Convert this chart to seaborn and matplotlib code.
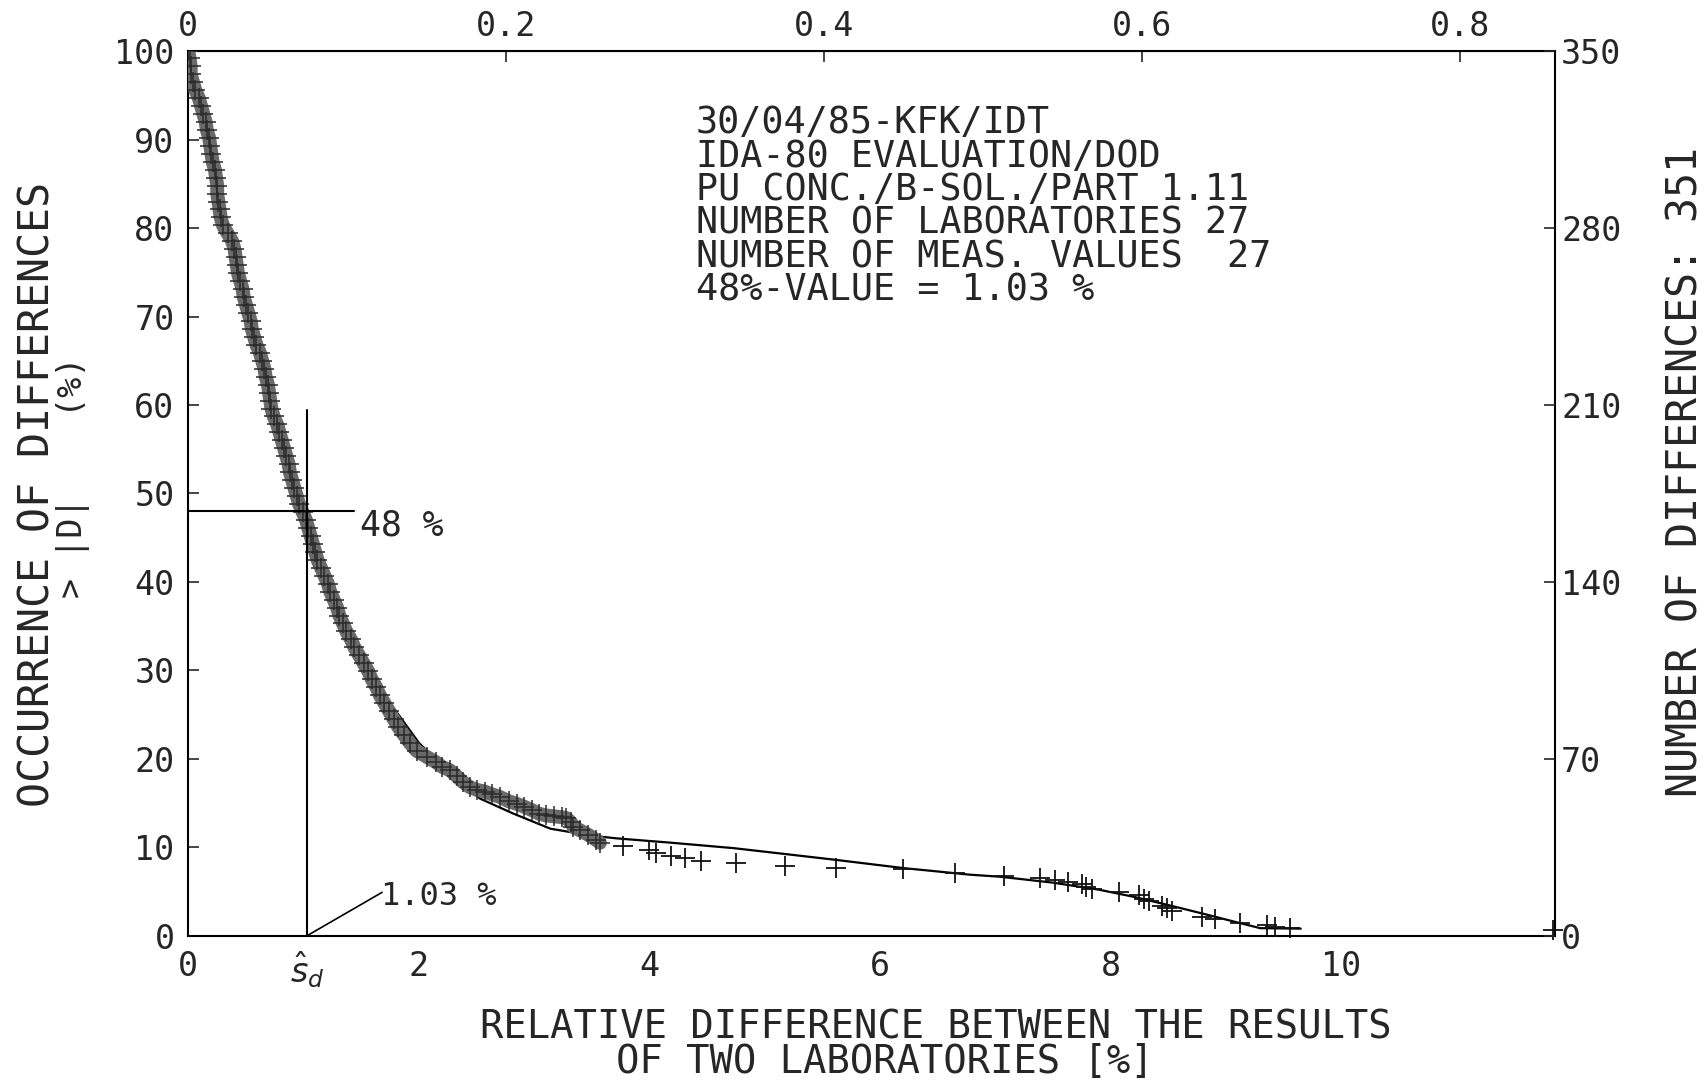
import matplotlib
matplotlib.use("Agg")
import matplotlib.pyplot as plt
import numpy as np
import pandas as pd
import seaborn as sns

OUT = "out.png"

# measured differences, dense part of the band (x in %, y = occurrence in %)
DENSE_X = [0.00, 0.01, 0.02, 0.02, 0.04, 0.06, 0.09, 0.11, 0.13, 0.15, 0.16, 0.18,
           0.19, 0.20, 0.21, 0.23, 0.24, 0.25, 0.25, 0.26, 0.27, 0.28, 0.30, 0.34,
           0.38, 0.40, 0.41, 0.42, 0.43, 0.45, 0.47, 0.48, 0.50, 0.52, 0.54, 0.55,
           0.57, 0.59, 0.62, 0.64, 0.66, 0.67, 0.69, 0.70, 0.71, 0.72, 0.74, 0.77,
           0.79, 0.81, 0.83, 0.85, 0.87, 0.88, 0.90, 0.92, 0.94, 0.96, 0.99, 1.02,
           1.04, 1.06, 1.08, 1.10, 1.12, 1.15, 1.18, 1.21, 1.23, 1.26, 1.29, 1.31,
           1.34, 1.37, 1.41, 1.44, 1.48, 1.52, 1.56, 1.59, 1.63, 1.66, 1.70, 1.74,
           1.78, 1.82, 1.87, 1.92, 1.98, 2.07, 2.15, 2.20, 2.27, 2.33, 2.38,
           2.44, 2.50, 2.57, 2.63, 2.70, 2.78, 2.85, 2.91, 2.98, 3.04, 3.10, 3.17,
           3.24, 3.28, 3.32, 3.34, 3.40, 3.47, 3.54, 3.57]
DENSE_Y = [100.0, 99.2, 98.3, 97.4, 96.5, 95.6, 94.7, 93.8, 92.9, 92.0, 91.1, 90.2,
           89.3, 88.4, 87.5, 86.6, 85.7, 84.8, 83.9, 83.0, 82.1, 81.2, 80.3, 79.4,
           78.5, 77.6, 76.7, 75.8, 74.9, 74.0, 73.1, 72.2, 71.3, 70.4, 69.5, 68.6,
           67.7, 66.8, 65.9, 65.0, 64.1, 63.2, 62.3, 61.4, 60.5, 59.6, 58.7, 57.8,
           56.9, 56.0, 55.1, 54.2, 53.3, 52.4, 51.5, 50.6, 49.7, 48.8, 47.9, 47.0,
           46.1, 45.2, 44.3, 43.4, 42.5, 41.6, 40.7, 39.8, 38.9, 38.0, 37.1, 36.2,
           35.3, 34.4, 33.5, 32.6, 31.7, 30.8, 29.9, 29.0, 28.1, 27.2, 26.3, 25.4,
           24.5, 23.6, 22.7, 21.8, 20.9, 20.2, 19.6, 19.1, 18.7, 18.0, 17.4,
           16.8, 16.5, 16.3, 16.0, 15.7, 15.2, 14.9, 14.6, 14.2, 13.8, 13.6, 13.5,
           13.4, 13.3, 12.8, 12.3, 11.9, 11.4, 10.8, 10.5]

# isolated differences in the tail
TAIL_X = [3.77, 4.00, 4.06, 4.19, 4.31, 4.45, 4.75, 5.18, 5.62, 6.20, 6.65, 7.08,
          7.39, 7.52, 7.63, 7.75, 7.79, 7.84, 8.07, 8.25, 8.29, 8.33, 8.45, 8.49,
          8.53, 8.79, 8.91, 9.12, 9.36, 9.43, 9.56, 11.84]
TAIL_Y = [10.1, 9.7, 9.3, 9.0, 8.75, 8.5, 8.2, 7.9, 7.7, 7.5, 7.1, 6.75,
          6.56, 6.3, 6.1, 5.8, 5.54, 5.3, 4.97, 4.6, 4.2, 3.9, 3.4, 3.1,
          2.8, 2.08, 1.85, 1.47, 1.2, 1.0, 0.83, 0.6]

# fitted curve
FIT_X = [0.0, 0.15, 0.30, 0.50, 0.72, 1.00, 1.30, 1.60, 2.00, 2.30, 2.53, 2.82,
         3.14, 3.50, 3.72, 4.20, 4.73, 5.20, 5.60, 6.20, 6.78, 7.04, 7.50, 7.90,
         8.20, 8.49, 8.80, 9.07, 9.30, 9.65]
FIT_Y = [100.0, 92.0, 80.3, 71.0, 59.6, 47.9, 37.0, 29.0, 21.8, 18.0, 15.5, 13.8,
         12.1, 11.3, 11.0, 10.5, 9.9, 9.2, 8.6, 7.65, 6.9, 6.67, 6.0, 5.2,
         4.4, 3.5, 2.5, 1.6, 0.85, 0.8]

SD_VALUE = 1.03
SD_LEVEL = 48
N_DIFF = 351

X_TICKS = [0, SD_VALUE, 2, 4, 6, 8, 10]
X_LABELS = ["0", r"$\hat{s}_d$", "2", "4", "6", "8", "10"]
Y_TICKS = list(range(0, 101, 10))
RIGHT_TICKS = [0, 70, 140, 210, 280, 350]
TOP_TICKS = [0, 0.2, 0.4, 0.6, 0.8]
TOP_LABELS = ["0", "0.2", "0.4", "0.6", "0.8"]
TOP_SCALE = 0.0725

INFO_LINES = [
    "30/04/85-KFK/IDT",
    "IDA-80 EVALUATION/DOD",
    "PU CONC./B-SOL./PART 1.11",
    "NUMBER OF LABORATORIES 27",
    "NUMBER OF MEAS. VALUES  27",
    "48%-VALUE = 1.03 %",
]


def main():
    sns.set_style("white")
    plt.rcParams["font.family"] = ["DejaVu Sans Mono", "DejaVu Sans"]
    plt.rcParams["mathtext.fontset"] = "dejavusans"

    dense = pd.DataFrame({"x": DENSE_X, "y": DENSE_Y})
    tail = pd.DataFrame({"x": TAIL_X, "y": TAIL_Y})
    fit = pd.DataFrame({"x": FIT_X, "y": FIT_Y})

    fig = plt.figure(figsize=(17.08, 10.84), dpi=100)
    ax = fig.add_axes([0.1103, 0.1368, 0.8004, 0.8160])

    sns.lineplot(data=fit, x="x", y="y", ax=ax, color="black", linewidth=1.6,
                 estimator=None, sort=False, zorder=2)
    sns.lineplot(data=dense, x="x", y="y", ax=ax, color="#6a6a6a", linewidth=10,
                 estimator=None, sort=False, zorder=3)
    sns.scatterplot(data=dense, x="x", y="y", ax=ax, marker="+", s=190,
                    color="#2a2a2a", linewidth=1.1, zorder=4)
    sns.scatterplot(data=tail, x="x", y="y", ax=ax, marker="+", s=190,
                    color="#111111", linewidth=1.3, zorder=4, clip_on=False)

    # 48 % construction lines
    ax.plot([SD_VALUE, SD_VALUE], [0, 59.4], color="black", lw=1.5, zorder=5)
    ax.plot([0, 1.44], [SD_LEVEL, SD_LEVEL], color="black", lw=1.5, zorder=5)
    ax.text(1.49, 48.3, "48 %", fontsize=25, ha="left", va="top")
    ax.plot([SD_VALUE, 1.68], [0, 4.9], color="black", lw=1.2, zorder=5)
    ax.text(1.67, 4.4, "1.03 %", fontsize=23, ha="left", va="center")

    ax.text(4.40, 94.0, "\n".join(INFO_LINES), fontsize=26.5, ha="left", va="top",
            linespacing=0.88)

    ax.set_xlim(0, 11.86)
    ax.set_ylim(0, 100)
    ax.set_xticks(X_TICKS)
    ax.set_xticklabels(X_LABELS)
    ax.set_yticks(Y_TICKS)
    ax.set_xlabel("")
    ax.set_ylabel("")
    ax.tick_params(axis="both", direction="in", length=8, width=1.2,
                   labelsize=24, pad=10)

    for side in ["left", "right", "top", "bottom"]:
        ax.spines[side].set_visible(True)
        ax.spines[side].set_color("black")
        ax.spines[side].set_linewidth(1.5)

    top = ax.secondary_xaxis("top", functions=(lambda v: v * TOP_SCALE,
                                               lambda v: v / TOP_SCALE))
    top.set_xticks(TOP_TICKS)
    top.set_xticklabels(TOP_LABELS)
    top.tick_params(direction="in", length=8, width=1.2, labelsize=24, pad=6)

    right = ax.twinx()
    right.set_ylim(0, 350)
    right.set_yticks(RIGHT_TICKS)
    right.tick_params(direction="in", length=8, width=1.2, labelsize=24, pad=4)
    for side in ["left", "right", "top", "bottom"]:
        right.spines[side].set_visible(False)

    fig.text(0.548, 0.052, "RELATIVE DIFFERENCE BETWEEN THE RESULTS",
             fontsize=28, ha="center", va="center")
    fig.text(0.518, 0.020, "OF TWO LABORATORIES [%]",
             fontsize=28, ha="center", va="center")
    fig.text(0.022, 0.544, "OCCURRENCE OF DIFFERENCES", fontsize=30,
             rotation=90, ha="center", va="center")
    fig.text(0.043, 0.560, "> |D|    (%)", fontsize=24,
             rotation=90, ha="center", va="center")
    fig.text(0.987, 0.565, f"NUMBER OF DIFFERENCES: {N_DIFF}", fontsize=30,
             rotation=90, ha="center", va="center")

    fig.savefig(OUT, dpi=100, facecolor="white")
    plt.close(fig)


if __name__ == "__main__":
    main()
